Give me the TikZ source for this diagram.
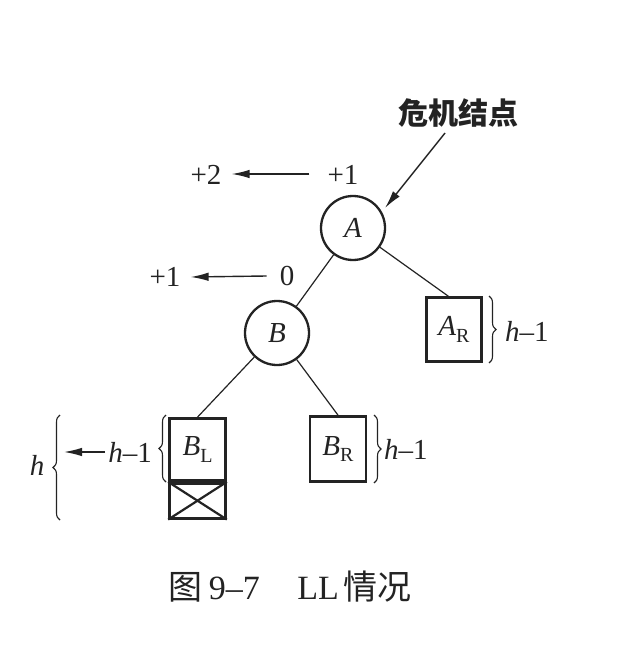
\documentclass[tikz,border=0pt]{standalone}
\usepackage{fontspec}
\setmainfont{Liberation Serif}
\newfontfamily\cjk{Noto Sans CJK SC}
\usetikzlibrary{arrows.meta,decorations.pathreplacing,calc}
\definecolor{ink}{RGB}{35,35,35}
\newcommand{\lowsub}[1]{\raisebox{-0.22em}{\fontsize{20}{20}\selectfont\upshape #1}}
\tikzset{
  lbl/.style={font=\fontsize{29}{29}\selectfont, text=ink, inner sep=0pt},
  circ/.style={circle, draw=ink, line width=2.3pt, minimum size=64pt, inner sep=0pt, text=ink, font=\fontsize{29}{29}\selectfont\itshape},
  tbox/.style={rectangle, draw=ink, line width=2.7pt, inner sep=0pt, text=ink, font=\fontsize{29}{29}\selectfont},
  edge/.style={draw=ink, line width=1.2pt},
  arr/.style={draw=ink, line width=1.4pt, -{Latex[length=18pt,width=8.5pt]}},
  brc/.style={draw=ink, line width=1.1pt, decorate, decoration={brace, amplitude=7pt}},
}
\begin{document}
\begin{tikzpicture}[x=1pt,y=-1pt]
\useasboundingbox[fill=white] (0,0) rectangle (635,647);
% nodes
\node[circ] (A) at (353,228) {A};
\node[circ] (B) at (277,333) {B};
\node[tbox, minimum width=55pt, minimum height=64pt] (AR) at (454,329.5) {\textit{A}\lowsub{R}};
\node[tbox, minimum width=56pt, minimum height=65pt] (BR) at (338,449) {\textit{B}\lowsub{R}};
\node[tbox, minimum width=56pt, minimum height=62pt] (BL) at (197.5,449.5) {\textit{B}\lowsub{L}};
\node[tbox, minimum width=56pt, minimum height=35pt, anchor=north] (BX) at (BL.south) {};
\draw[ink, line width=2.2pt] (BX.north west) -- (BX.south east);
\draw[ink, line width=2.2pt] (BX.south west) -- (BX.north east);
% edges
\draw[edge] (A) -- (B);
\coordinate (ARtop) at ($(AR.north west)!0.8!(AR.north)$);
\draw[edge] (A) -- (ARtop);
\draw[edge] (B) -- (BL.north);
\draw[edge] (B) -- (BR.north);
% balance labels
\node[lbl] (p2) at (206,175) {+2};
\node[lbl] (p1a) at (343,175) {+1};
\draw[arr] ($(p1a.west)+(-18,-1)$) -- ($(p2.east)+(10,-1)$);
\node[lbl] (p1b) at (165,277) {+1};
\node[lbl] (z0) at (287,276) {0};
\draw[arr] ($(z0.west)+(-13,0)$) -- ($(p1b.east)+(10,0)$);
% critical node
\node[font=\fontsize{30}{30}\selectfont\cjk\bfseries, text=ink, inner sep=0pt] (crit) at (458,113) {危机结点};
\coordinate (critstart) at (445,133);
\coordinate (critend) at (385,208);
\draw[arr] (critstart) -- (critend);
% braces
\coordinate (arb1) at (489,296); \coordinate (arb2) at (489,363);
\draw[brc] (arb1) -- (arb2);
\node[lbl, anchor=west] (harl) at (505,331) {\textit{h}–1};
\coordinate (brb1) at (374,415); \coordinate (brb2) at (374,483);
\draw[brc] (brb1) -- (brb2);
\node[lbl, anchor=west] (hbrl) at (384,449) {\textit{h}–1};
\coordinate (blb1) at (166,482); \coordinate (blb2) at (166,415);
\draw[brc] (blb1) -- (blb2);
\node[lbl, anchor=east] (hbll) at (152,452) {\textit{h}–1};
\coordinate (bigb1) at (60,520); \coordinate (bigb2) at (60,415);
\draw[brc] (bigb1) -- (bigb2);
\node[lbl] (hh) at (37,465) {\textit{h}};
\coordinate (bigtip) at (64,452);
\draw[arr] ($(hbll.west)+(-3,0)$) -- (bigtip);
% caption
\node[font=\fontsize{34}{34}\selectfont, text=ink, inner sep=0pt] (cap) at (290,587) {{\cjk 图}\hspace{0.2em}9–7\hspace{1.1em}LL\hspace{0.15em}{\cjk 情况}};
\end{tikzpicture}
\end{document}
